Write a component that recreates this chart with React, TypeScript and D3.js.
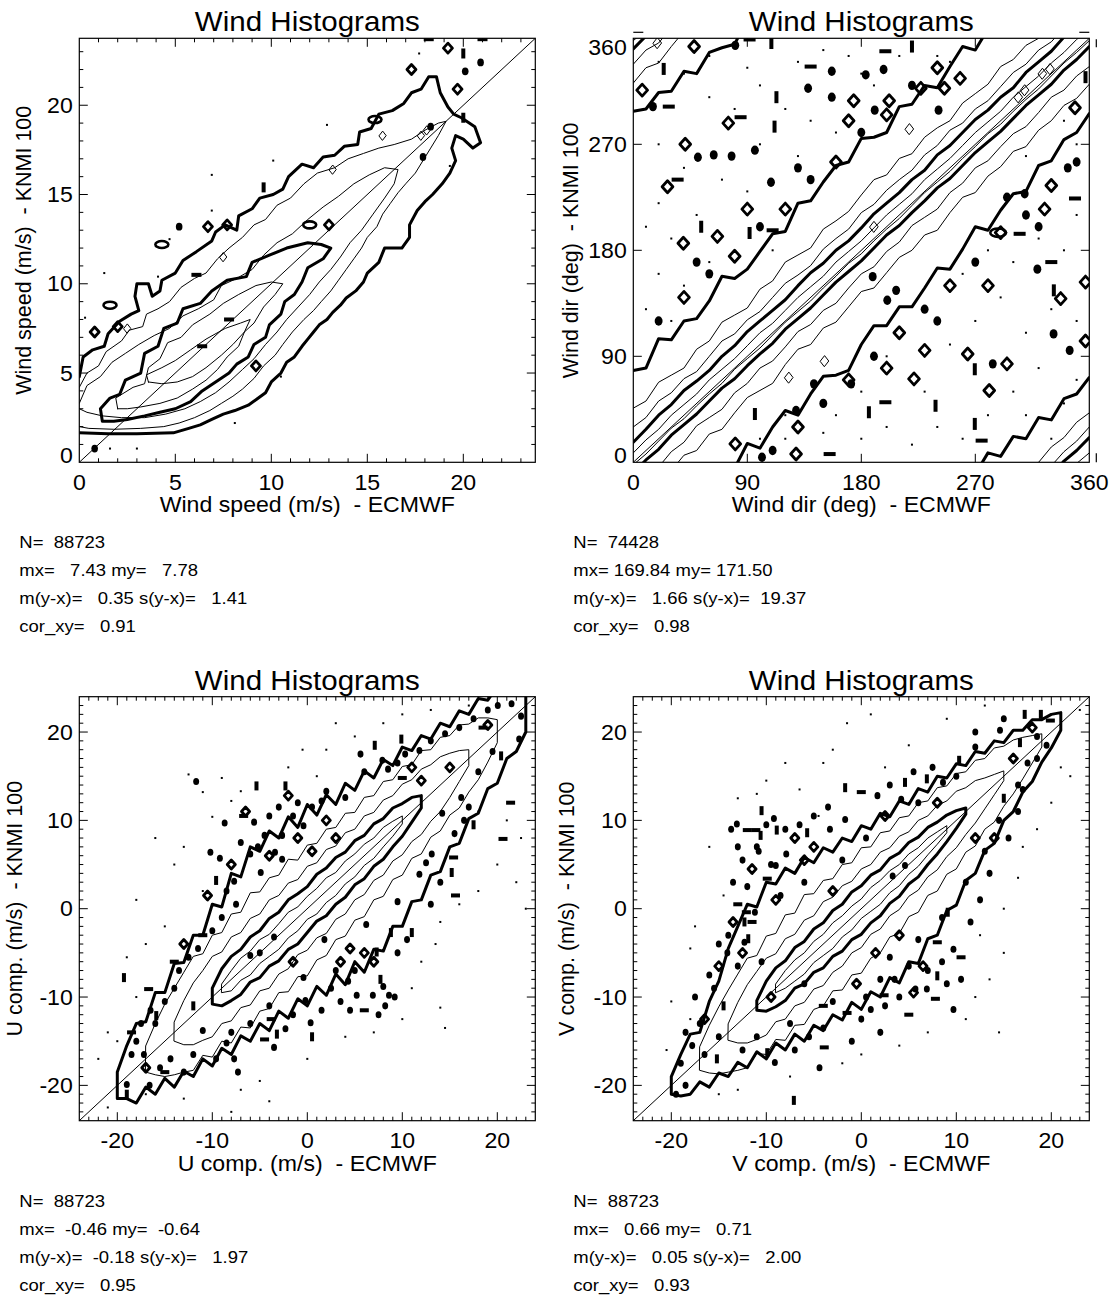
import React from 'react';
import * as d3 from 'd3';

type Pt = [number, number];

const FONT = '"Liberation Sans", Arial, Helvetica, sans-serif';
const STRETCH = 1.075;

// ---------------- Panel 1 : wind speed ----------------
const p1Major = [0, 5, 10, 15, 20];
const p1Minor = [1, 2, 3, 4, 6, 7, 8, 9, 11, 12, 13, 14, 16, 17, 18, 19, 21, 22, 23];
const p1Stats = ['N=  88723', 'mx=   7.43 my=   7.78', 'm(y-x)=   0.35 s(y-x)=   1.41', 'cor_xy=   0.91'];

const p1Outer: Pt[] = [[0,4.8],[0.2,5.9],[0.7,6.3],[1.3,6.5],[1.5,7.2],[2.1,7.9],[2.7,8.3],[3.1,8.5],[2.9,9.3],[3.0,10.0],[3.6,10.0],[3.8,9.3],[4.2,9.6],[4.3,10.2],[5.0,10.6],[5.4,11.3],[6.1,11.8],[6.9,12.4],[7.1,12.9],[7.6,13.3],[8.2,13.0],[8.3,13.8],[9.0,14.2],[9.4,14.8],[10.1,15.0],[10.6,15.3],[10.9,16.0],[11.6,16.7],[12.2,16.5],[12.7,17.1],[13.3,17.2],[13.8,17.7],[14.5,17.8],[14.6,18.5],[15.2,18.7],[15.6,19.5],[16.3,19.7],[16.9,20.1],[17.3,20.7],[17.8,20.9],[18.2,21.6],[18.6,21.6],[18.8,20.7],[19.2,19.9],[19.5,19.5],[19.9,19.3],[20.6,18.8],[20.9,17.9],[20.5,17.6],[20.0,18.1],[19.6,18.3],[19.4,17.6],[19.6,16.9],[19.3,16.2],[18.9,15.6],[18.4,15.0],[18.0,14.6],[17.6,14.1],[17.2,13.3],[17.2,12.6],[16.8,12.0],[15.9,12.0],[15.6,11.2],[15.0,10.6],[14.8,10.1],[14.4,9.6],[13.9,9.2],[13.6,8.8],[13.2,8.4],[12.9,8.0],[12.5,7.7],[12.2,7.3],[11.9,6.9],[11.6,6.5],[11.2,5.9],[10.8,5.6],[10.5,5.0],[10.0,4.5],[9.7,3.9],[9.2,3.5],[8.8,3.2],[8.1,2.9],[7.5,2.7],[6.9,2.4],[6.3,2.1],[5.7,1.9],[4.9,1.65],[3.0,1.6],[1.5,1.6],[0,1.65]];
const p1Level2: Pt[] = [[0,4.2],[0.4,5.0],[1.0,5.4],[1.4,6.2],[2.2,6.8],[2.6,7.4],[3.3,7.6],[3.5,8.3],[4.1,8.6],[4.7,9.0],[5.3,9.8],[6.0,10.3],[6.6,10.6],[7.2,11.4],[7.8,12.0],[8.5,12.6],[9.1,13.3],[9.7,13.6],[10.3,14.4],[11.0,14.8],[11.7,15.6],[12.4,16.2],[13.3,16.5],[14.0,17.0],[14.8,17.3],[15.6,17.6],[16.4,17.8],[17.3,18.1],[18.0,18.6],[18.7,19.0],[19.1,19.1],[18.7,18.3],[18.3,17.6],[17.9,16.9],[17.5,16.2],[17.0,15.6],[16.6,15.1],[16.2,14.5],[15.8,13.9],[15.5,13.2],[15.0,12.6],[14.7,12.0],[14.3,11.4],[13.9,10.8],[13.5,10.2],[13.1,9.6],[12.6,9.0],[12.2,8.5],[11.7,8.0],[11.1,7.3],[10.6,6.6],[10.2,6.0],[9.6,5.4],[9.1,4.7],[8.5,4.1],[8.0,3.7],[7.4,3.3],[6.8,2.9],[6.0,2.5],[5.2,2.2],[4.4,2.0],[3.2,1.9],[1.8,1.85],[0.5,1.9],[0,2.0]];
const p1Level3: Pt[] = [[0,3.3],[0.4,4.3],[1.1,4.8],[1.7,5.6],[2.4,6.1],[3.1,6.6],[3.9,7.1],[4.7,7.5],[5.4,8.2],[6.2,8.6],[7.0,9.1],[7.4,9.9],[8.2,10.3],[9.0,10.8],[9.6,11.6],[10.3,12.3],[11.1,12.8],[11.9,13.6],[12.7,14.3],[13.5,14.9],[14.3,15.6],[15.1,16.1],[15.9,16.5],[16.6,16.4],[16.4,15.6],[15.9,14.8],[15.3,13.9],[14.7,13.0],[14.1,12.3],[13.6,11.5],[13.1,10.8],[12.5,10.1],[12.0,9.4],[11.4,8.7],[10.8,8.0],[10.3,7.3],[9.7,6.6],[9.1,5.8],[8.5,5.2],[7.8,4.5],[7.1,3.9],[6.3,3.4],[5.5,3.0],[4.5,2.7],[3.4,2.5],[2.2,2.5],[1.2,2.6],[0.4,2.8],[0,3.0]];
const p1Inner: Pt[] = [[1.2,2.3],[1.1,3.0],[1.6,3.6],[2.1,3.8],[2.4,4.6],[3.2,5.0],[3.4,6.1],[4.1,6.5],[4.4,7.5],[5.1,7.8],[5.4,8.6],[6.3,8.9],[6.9,9.6],[7.7,10.2],[8.7,10.4],[9.0,11.2],[9.9,11.6],[10.8,12.0],[11.9,12.3],[12.6,12.2],[13.1,12.0],[12.7,11.4],[11.9,10.9],[11.6,10.1],[11.2,9.4],[10.7,9.0],[10.5,8.3],[9.9,7.7],[9.7,7.0],[9.1,6.6],[8.8,5.9],[8.2,5.5],[7.8,5.0],[7.1,4.5],[6.4,4.0],[5.8,3.4],[5.0,3.0],[4.2,2.8],[3.4,2.6],[2.5,2.4],[1.8,2.3],[1.2,2.3]];
const p1Level5: Pt[] = [[2.0,3.0],[1.9,3.6],[2.8,4.2],[3.4,4.4],[3.6,5.3],[4.2,5.8],[4.6,6.7],[5.3,7.0],[5.9,7.7],[6.8,8.3],[7.5,8.9],[8.3,9.4],[9.2,9.9],[10.0,10.1],[10.6,10.0],[10.2,9.4],[9.6,8.7],[9.1,7.8],[8.6,7.3],[8.3,6.5],[7.7,5.9],[7.2,5.2],[6.6,4.6],[5.9,4.1],[5.1,3.6],[4.2,3.3],[3.2,3.1],[2.5,3.0],[2.0,3.0]];
const p1Level6: Pt[] = [[3.6,4.5],[3.5,4.9],[4.3,5.3],[5.0,5.7],[5.8,6.3],[6.6,6.9],[7.6,7.5],[8.4,7.8],[8.9,8.0],[8.6,7.3],[8.0,6.6],[7.4,6.0],[6.6,5.3],[5.9,4.8],[5.1,4.5],[4.3,4.4],[3.6,4.5]];

const p1BlobF: Pt[] = [[0.8,0.77],[5.2,13.2],[18.3,18.8],[17.9,17.1],[20.1,21.9],[20.9,22.4]];
const p1BlobO: Pt[] = [[0.8,7.3],[2.0,7.6],[6.7,13.2],[7.7,13.3],[13.0,13.3],[9.2,5.4],[17.3,22.0],[19.7,20.9],[19.2,23.2]];
const p1BlobE: Pt[] = [[1.6,8.8],[4.3,12.2],[12.0,13.3],[15.4,19.2]];
const p1BlobH: Pt[] = [[6.1,10.5],[7.8,8.0],[6.4,6.5],[18.2,23.7],[21.0,23.7]];
const p1BlobV: Pt[] = [[9.6,15.4],[20.0,19.3],[20.0,22.9]];
const p1BlobT: Pt[] = [[2.5,7.5],[7.5,11.5],[13.2,16.4],[15.8,18.3],[17.8,18.3],[18.1,18.6]];
const p1BlobDot: Pt[] = [[1.6,0.77],[3.0,0.77],[1.3,10.6],[4.1,10.4],[4.7,12.5],[6.9,16.1],[6.9,14.1],[10.1,16.9],[12.9,18.9],[19.3,16.6],[17.7,22.9],[8.1,2.2],[10.5,4.8],[0.3,8.1]];

// ---------------- Panel 2 : wind direction ----------------
const p2Major = [0, 90, 180, 270, 360];
const p2Stats = ['N=  74428', 'mx= 169.84 my= 171.50', 'm(y-x)=   1.66 s(y-x)=  19.37', 'cor_xy=   0.98'];
const p2Along0 = 0;
const p2Step = 10;
// offsets y - x (deg) of each contour, sampled along x = 0..360
const p2OuterUp = [78,70,85,74,80,72,77,88,76,74,79,84,76,90,82,88,92,85,95,86,80,92,84,90,78,86,93,80,88,75,82,70,78,66,74,68,72];
const p2Thin2Up = [46,42,48,44,40,46,43,49,45,41,47,44,50,46,42,48,45,43,47,50,44,48,42,46,44,40,45,43,41,46,42,44,40,43,41,44,42];
const p2Thin3Up = [30,28,32,29,31,27,30,33,29,31,28,30,32,29,27,31,30,28,32,29,31,30,28,31,29,32,28,30,27,29,31,28,30,27,29,28,30];
const p2ThickUp = [17,18,20,19,21,19,18,20,19,21,20,19,18,20,21,19,20,18,19,21,20,19,20,18,21,19,20,21,19,20,18,21,20,19,21,20,21];
const p2RidgeUp = [8,9,8,10,9,8,10,9,8,9,10,8,9,10,9,8,10,9,8,9,10,9,8,10,9,8,9,10,9,8,10,9,8,9,8,9,8];
const p2RidgeLo = [-2,-3,-2,-1,-3,-2,-2,-3,-1,-2,-3,-2,-1,-2,-3,-2,-2,-1,-3,-2,-2,-3,-2,-1,-2,-3,-2,-2,-1,-3,-2,-2,-3,-2,-1,-2,-2];
const p2ThickLo = [-9,-8,-9,-7,-8,-9,-8,-7,-9,-8,-8,-9,-7,-8,-9,-8,-7,-8,-9,-8,-7,-9,-8,-8,-7,-9,-8,-7,-8,-9,-8,-7,-8,-9,-7,-8,-7];
const p2Thin3Lo = [-22,-20,-24,-21,-23,-19,-22,-25,-21,-23,-20,-24,-22,-19,-23,-21,-25,-22,-20,-24,-21,-23,-19,-22,-25,-21,-23,-20,-24,-22,-21,-25,-23,-20,-24,-22,-24];
const p2Thin2Lo = [-38,-35,-41,-37,-34,-40,-36,-42,-38,-35,-39,-43,-37,-34,-40,-36,-41,-38,-35,-42,-39,-36,-40,-37,-43,-38,-35,-41,-37,-39,-36,-42,-38,-40,-37,-41,-39];
const p2OuterLo = [-62,-70,-66,-75,-68,-80,-72,-78,-85,-74,-88,-80,-76,-90,-82,-77,-86,-92,-80,-74,-84,-78,-88,-82,-75,-86,-79,-70,-83,-76,-72,-80,-68,-74,-66,-70,-64];

const p2BlobO: Pt[] = [[48,353],[7,316],[41,270],[75,288],[27,234],[39.5,186],[66.4,191.8],[174,307],[202,307],[227,317.5],[245.6,317.6],[258,326],[348.7,301],[324.7,215],[337.4,139],[357,153],[357,103],[230,95],[221.6,70.8],[264,92],[295,83.6],[128.5,7],[80.5,15.6],[281,61],[40,140],[80,175],[120,215],[160,255],[200,295],[240,335],[90,215],[170,290],[130,30],[170,70],[210,110],[250,150],[290,195],[330,235],[200,80],[280,150]];
const p2BlobF: Pt[] = [[80.5,354],[15.5,302],[51,259],[63.5,261],[77.6,260],[96,265],[108.7,237.8],[156.7,332],[183.5,329],[197.6,333.5],[138,317.6],[156.7,310],[190.6,299],[241,299],[343,250],[309,228],[295,225],[319,164],[331.8,109],[344.5,95],[189,157.6],[207.5,146],[200.5,137.6],[128.5,44],[101.6,4.3],[142.6,66.6],[172,66.6],[283.8,83.6],[20,120],[60,160],[100,200],[140,240],[180,280],[220,320],[50,170],[130,250],[110,10],[150,50],[190,90],[230,130],[270,170],[310,210],[350,255],[240,120],[320,200]];
const p2BlobE: Pt[] = [[288,195]];
const p2BlobH: Pt[] = [[91.8,359],[140,336],[28,302],[84.7,293],[35,240],[110,197],[199,349],[348.7,224],[305,194],[199,51],[275,18.4],[155,7],[330,170]];
const p2BlobV: Pt[] = [[109,356],[24,334],[113,310],[111.5,285],[53.6,200],[91.8,194.7],[220,353],[357,327],[332,146],[238.6,48],[186,42.5],[269.6,32.6],[96,41],[269.6,79]];
const p2BlobT: Pt[] = [[329,334],[323,330],[309,316],[304,310],[218,283],[151,86],[122.8,72],[19,356],[190,200]];
const p2BlobDot: Pt[] = [[20,340],[40,330],[60,345],[90,335],[100,320],[130,340],[150,350],[170,345],[190,320],[60,310],[80,300],[120,300],[140,290],[160,280],[100,270],[130,260],[20,270],[40,250],[70,240],[90,230],[20,220],[50,210],[10,200],[30,190],[60,170],[20,160],[40,150],[10,130],[30,120],[80,170],[110,180],[180,330],[210,345],[240,345],[250,340],[330,20],[310,40],[340,50],[300,60],[320,80],[350,70],[280,40],[260,20],[240,30],[220,15],[200,30],[180,20],[160,40],[150,25],[120,20],[250,100],[270,120],[290,140],[310,110],[330,130],[350,120],[300,170],[320,190],[340,180],[350,210],[330,240],[310,260],[350,270],[340,290],[200,90],[180,60],[230,60],[260,160],[280,180],[120,40],[100,20]];

// ---------------- Panel 3 : U component ----------------
const p3Major = [-20, -10, 0, 10, 20];
const p3Minor = [-24,-23,-22,-21,-19,-18,-17,-16,-15,-14,-13,-12,-11,-9,-8,-7,-6,-5,-4,-3,-2,-1,1,2,3,4,5,6,7,8,9,11,12,13,14,15,16,17,18,19,21,22,23];
const p3Stats = ['N=  88723', 'mx=  -0.46 my=  -0.64', 'm(y-x)=  -0.18 s(y-x)=   1.97', 'cor_xy=   0.95'];
// offsets y - x (m/s) sampled every 1 m/s starting at x0
const p3OuterX0 = -20;
const p3OuterUp = [1.5,3.5,5.0,4.2,6.5,5.5,7.8,6.9,9.0,8.0,10.5,9.2,12.0,10.6,13.0,11.5,12.8,11.0,12.4,10.2,11.8,9.6,10.9,8.8,10.2,8.4,9.6,7.8,8.9,7.2,8.3,6.9,7.6,6.2,7.0,5.6,6.4,5.0,5.8,4.6,5.2,4.0,4.4,3.5];
const p3OuterLo = [-1.5,-2.5,-4.0,-3.2,-5.0,-4.2,-6.2,-5.4,-7.0,-6.0,-7.8,-6.8,-8.5,-7.4,-9.0,-8.0,-9.8,-8.6,-10.4,-9.2,-11.0,-9.8,-11.8,-10.4,-12.6,-11.0,-13.2,-11.6,-12.8,-11.0,-12.0,-10.2,-11.0,-9.2,-9.8,-8.0,-8.6,-6.8,-7.2,-5.4,-5.8,-4.0,-4.2,-3.0];
const p3Lev2X0 = -17;
const p3Lev2Up = [1.5,3.0,4.2,5.0,5.8,6.6,5.9,7.0,6.3,7.4,6.6,7.8,6.9,7.5,6.8,7.6,6.5,7.2,6.4,7.0,6.2,6.8,5.9,6.6,5.8,6.4,5.6,6.1,5.3,5.9,5.0,5.4,4.6,4.8,3.9,3.6,2.6,1.4];
const p3Lev2Lo = [-1.5,-2.8,-4.0,-4.8,-5.5,-6.3,-5.6,-6.8,-6.0,-7.2,-6.4,-7.5,-6.6,-7.3,-6.5,-7.4,-6.7,-7.6,-6.8,-7.3,-6.5,-7.1,-6.3,-6.9,-6.0,-6.6,-5.7,-6.2,-5.3,-5.8,-4.9,-5.2,-4.4,-4.6,-3.8,-3.4,-2.4,-1.2];
const p3Lev3X0 = -14;
const p3Lev3Up = [1.2,2.6,3.6,4.0,4.6,4.1,4.8,4.3,4.9,4.4,5.0,4.5,4.9,4.3,4.8,4.2,4.7,4.1,4.6,4.0,4.5,3.9,4.3,3.8,4.1,3.6,3.8,3.3,3.2,2.6,1.9,1.0];
const p3Lev3Lo = [-1.0,-2.4,-3.4,-3.9,-4.5,-4.0,-4.7,-4.2,-4.9,-4.3,-5.0,-4.4,-4.8,-4.2,-4.7,-4.3,-4.8,-4.2,-4.6,-4.0,-4.4,-3.8,-4.2,-3.6,-3.9,-3.4,-3.6,-3.1,-3.0,-2.4,-1.6,-0.8];
const p3InnerX0 = -10;
const p3InnerUp = [1.0,2.2,2.6,2.4,2.8,2.5,2.9,2.6,3.0,2.7,2.5,2.9,2.6,2.8,2.4,2.7,2.3,2.6,2.2,2.4,1.9,1.6,0.8];
const p3InnerLo = [-0.8,-2.0,-2.4,-2.7,-2.3,-2.8,-2.5,-2.9,-2.6,-3.0,-2.7,-2.4,-2.8,-2.5,-2.7,-2.3,-2.6,-2.2,-2.4,-2.0,-1.8,-1.2,-0.6];
const p3TopX0 = -9;
const p3TopUp = [0.5,1.0,1.4,1.2,1.5,1.1,1.3,1.6,1.2,1.4,1.3,1.5,1.1,1.4,1.2,1.3,1.0,1.2,0.9,0.5];
const p3TopLo = [-0.5,-1.3,-1.1,-1.5,-1.2,-1.4,-1.6,-1.3,-1.5,-1.2,-1.6,-1.3,-1.5,-1.2,-1.4,-1.1,-1.3,-1.0,-0.8,-0.4];

const p3BlobF: Pt[] = [[-11.7,14.4],[-8.7,9.7],[-10.2,6.4],[-9.2,5.7],[-7.7,3.1],[5.6,17.5],[10.3,17.5],[11.8,17.9],[7.9,16.8],[22.3,19.2],[22.5,21.8],[20.05,23],[13.1,6.2],[11.8,3.9],[-0.4,-7.8],[-0.2,-10.4],[0.35,-12.9],[-2.3,-13.6],[-3.5,-15.7],[-7.7,-17.0],[-7.3,-18.5],[-9.6,-17.0],[-13.0,-18.5],[-16.6,-20.0],[-19.0,-19.9],[-14.4,-17.0],[5.2,-9.8],[6.9,-9.8],[8.2,-11.0],[8.6,-9.8],[9.2,-10.0],[3.0,-7.0],[4.3,-8.2],[-5.6,9.8],[-4.5,8.3],[-2.65,8.3],[-3.4,6.4],[-1.5,10.5],[-0.4,9.4],[-4.9,4.1],[-2.65,5.6],[-6.0,-5.3],[-5.0,-5.0],[-3.5,-3.2],[2.0,13.3],[4.0,12.6],[-9.0,-1.0],[-12.5,-5.5],[-14.0,-9.0],[-16.0,-13.0],[-18.0,-15.0],[-17.2,-16.5],[1.8,-3.5],[6.2,-1.8],[9.5,0.8],[12.5,5.2],[14.2,10.8],[16.2,12.6],[18.0,15.5],[19.5,17.8],[-11.0,-13.8],[-8.5,-15.2],[-4.0,-11.0],[2.5,-9.0],[-7.0,7.5],[-6.0,6.2],[-5.2,7.0],[-4.0,10.5],[-3.0,11.5],[-1.0,12.0],[0.5,11.5],[1.5,12.2],[-8.5,2.0],[-7.5,0.5],[-10.0,-2.5],[-11.5,-4.5],[-13.5,-7.0],[-15.0,-10.5],[-16.5,-11.5],[-17.5,-13.0],[-18.5,-16.5],[6.0,15.5],[8.5,15.8],[9.5,16.5],[13.0,19.0],[14.5,19.8],[16.0,20.5],[17.5,21.5],[19.0,22.5],[21.5,23.2],[15.5,8.5],[16.5,10.0],[17.0,11.5],[14.0,3.0],[13.0,0.5],[10.5,-3.5],[9.5,-5.0],[5.0,-7.0],[3.5,-10.5],[1.5,-11.5],[-1.5,-12.0],[-6.0,-13.0],[-8.0,-14.0],[-12.0,-16.5],[-15.5,-18.0],[4.5,-11.5],[7.5,-12.0],[8.0,-8.8]];
const p3BlobO: Pt[] = [[-6.5,11.0],[-2.0,12.8],[3.0,8.0],[-8.0,5.0],[0.5,6.5],[7.0,-6.0],[-1.5,-6.0],[12.0,14.5],[15.0,16.0],[-10.5,1.5],[-13.0,-4.0],[4.5,-4.5],[-4.0,6.0],[-1.0,8.0],[2.0,10.0],[6.0,-5.0],[3.5,-6.0],[-17.0,-18.0],[19.0,20.8],[11.0,16.0]];
const p3BlobH: Pt[] = [[-6.7,10.5],[-16.7,-9.1],[20.6,7.9],[21.4,12.0],[15.4,5.8],[15.6,1.5],[-3.8,-12.5],[-4.5,-14.8],[-18.5,-14.0],[-14.0,-6.0],[-11.0,-3.0],[6.0,-11.5],[10.0,14.8],[18.5,20.5],[-15.0,-18.5]];
const p3BlobV: Pt[] = [[-5.35,13.9],[-2.3,13.9],[7.1,18.5],[9.9,19.2],[20.4,17.3],[15.2,4.1],[-3.2,-14.2],[-19.0,-21.0],[-19.3,-7.8],[-9.6,3.2],[7.7,-8.0],[7.3,-4.9],[11.0,-2.7],[8.8,-2.7],[-15.9,-12.1],[-12.0,-11.0],[17.5,9.5],[0.5,-14.5]];
const p3BlobDot: Pt[] = [[-12.5,15.2],[-11.0,13.2],[-10.0,10.4],[-8.0,12.2],[-7.0,13.3],[-13.0,7.0],[-14.0,5.0],[-11.0,2.0],[-15.0,-2.0],[-17.0,-4.0],[-19.0,-5.5],[-18.0,-10.0],[-21.0,-14.0],[-20.0,-15.0],[-22.0,-17.0],[-21.0,-22.5],[-17.0,-21.0],[-13.0,-21.5],[-8.0,-23.0],[-4.0,-21.8],[-7.0,-20.5],[-5.0,-19.5],[0.0,-17.0],[4.0,-14.5],[7.0,-14.0],[10.0,-12.5],[11.0,-9.0],[14.0,-11.2],[14.5,-13.5],[12.0,-6.0],[13.5,-4.0],[14.0,-1.5],[16.0,0.5],[18.0,2.0],[20.0,5.0],[22.0,3.0],[22.5,8.0],[21.0,10.0],[18.0,11.0],[23.0,0.0],[2.0,18.0],[1.0,15.0],[-2.0,16.0],[-0.5,18.0],[3.0,21.0],[5.0,19.5],[8.0,21.0],[10.0,22.0],[13.0,22.5],[17.0,23.0],[-9.0,14.8],[-16.0,8.0],[-18.0,1.0]];

// ---------------- Panel 4 : V component ----------------
const p4Stats = ['N=  88723', 'mx=   0.66 my=   0.71', 'm(y-x)=   0.05 s(y-x)=   2.00', 'cor_xy=   0.93'];
const p4OuterX0 = -20;
const p4OuterUp = [1.0,2.5,3.8,3.0,5.5,6.8,9.5,11.0,12.5,11.2,13.0,11.8,12.6,11.0,11.8,10.2,10.9,9.4,10.0,8.6,9.4,8.0,8.8,7.4,8.2,6.8,7.6,6.2,7.0,5.8,6.4,5.2,5.8,4.6,5.0,3.8,4.2,3.2,3.4,2.4,2.0,1.2];
const p4OuterLo = [-1.0,-2.2,-3.0,-2.6,-4.2,-3.6,-5.0,-4.4,-6.0,-5.2,-7.0,-6.2,-8.0,-7.2,-9.0,-8.2,-9.8,-9.0,-10.6,-9.6,-11.4,-10.4,-12.0,-10.8,-12.4,-11.0,-12.2,-10.4,-11.0,-9.2,-9.6,-7.8,-8.0,-6.4,-6.6,-5.0,-5.0,-3.8,-3.6,-2.4,-1.8,-0.8];
const p4Lev2X0 = -17;
const p4Lev2Up = [1.4,2.8,3.9,4.8,5.6,6.4,5.7,6.9,6.2,7.3,6.5,7.6,6.7,7.2,6.4,7.0,6.2,6.9,6.0,6.6,5.8,6.3,5.5,6.0,5.2,5.7,4.9,5.3,4.5,4.8,4.0,4.2,3.4,3.1,2.4,1.6,0.8];
const p4Lev2Lo = [-1.3,-2.6,-3.7,-4.5,-5.3,-6.0,-5.4,-6.5,-5.8,-6.9,-6.2,-7.1,-6.4,-7.0,-6.3,-7.2,-6.5,-7.3,-6.6,-7.0,-6.2,-6.8,-5.9,-6.4,-5.5,-6.0,-5.1,-5.5,-4.6,-4.9,-4.0,-4.2,-3.4,-3.0,-2.3,-1.5,-0.7];
const p4Lev3X0 = -14;
const p4Lev3Up = [1.0,2.4,3.4,3.9,4.4,3.9,4.6,4.1,4.7,4.2,4.8,4.3,4.6,4.1,4.5,4.0,4.4,3.9,4.2,3.7,4.0,3.5,3.7,3.2,3.3,2.7,2.5,1.8,1.2,0.6];
const p4Lev3Lo = [-0.9,-2.2,-3.2,-3.8,-4.3,-3.8,-4.5,-4.0,-4.6,-4.1,-4.7,-4.2,-4.5,-4.0,-4.4,-3.9,-4.3,-3.8,-4.1,-3.6,-3.9,-3.4,-3.6,-3.1,-3.1,-2.6,-2.3,-1.7,-1.1,-0.5];
const p4InnerX0 = -11;
const p4InnerUp = [0.6,1.8,2.3,2.1,2.6,2.3,2.7,2.4,2.8,2.5,2.9,2.6,2.8,2.4,2.7,2.3,2.5,2.1,2.2,1.8,1.6,1.1,0.4];
const p4InnerLo = [-0.5,-1.6,-2.1,-2.4,-2.0,-2.5,-2.2,-2.7,-2.4,-2.8,-2.5,-2.9,-2.6,-2.8,-2.4,-2.6,-2.2,-2.4,-2.0,-1.8,-1.4,-0.9,-0.3];
const p4TopX0 = -9;
const p4TopUp = [0.5,1.0,1.2,1.0,1.3,1.1,1.4,1.2,1.3,1.1,1.4,1.2,1.3,1.0,1.2,0.9,1.0,0.7,0.4];
const p4TopLo = [-0.5,-1.0,-1.2,-1.4,-1.1,-1.3,-1.5,-1.2,-1.4,-1.1,-1.3,-1.5,-1.2,-1.4,-1.1,-1.2,-0.9,-0.7,-0.4];

const p4BlobF: Pt[] = [[-13.7,9.0],[-13.1,9.6],[-9.2,10.2],[-10.8,6.5],[-9.0,4.9],[-7.9,6.2],[-3.3,9.0],[-1.7,10.1],[1.7,12.8],[4.2,12.4],[8.6,14.3],[12.0,18.3],[14.6,20.2],[-11.2,-0.4],[-12.3,-3.8],[-14.1,-5.0],[9.7,-4.6],[5.7,-9.1],[6.9,-9.1],[3.5,-8.0],[2.5,-11.0],[1.0,-11.4],[9.7,-11.4],[-9.1,-17.4],[-4.4,-18.0],[-17.8,-15.5],[3.3,3.7],[4.6,4.9],[-8.5,1.5],[-6.0,3.0],[-12.0,2.5],[-10.5,-6.0],[-15.5,-9.0],[-17.0,-13.0],[-19.0,-17.5],[-19.5,-21.0],[-18.5,-20.0],[-6.0,-8.5],[-3.0,-10.5],[0.0,-12.5],[-7.5,-13.0],[-4.0,-13.5],[3.0,-5.5],[6.0,-3.5],[8.5,-1.0],[11.0,3.0],[13.0,6.5],[14.5,10.0],[16.5,14.0],[17.5,16.5],[18.5,19.5],[-2.0,5.5],[0.5,8.0],[6.0,12.0],[10.0,15.0],[2.0,-14.0],[-1.0,-15.0],[-13.0,7.0],[-12.5,5.5],[-11.0,7.0],[-10.0,9.5],[-8.0,9.0],[-6.5,9.5],[-5.0,10.5],[-3.5,11.5],[-13.5,3.0],[-14.0,-3.0],[-15.0,-4.0],[-13.0,-6.5],[-16.0,-7.5],[-17.5,-10.0],[-18.5,-14.0],[-16.5,-16.5],[-15.0,-14.5],[-12.5,-16.0],[-11.0,-14.5],[-7.0,-16.0],[-5.5,-14.5],[0.5,-10.0],[2.0,-8.0],[4.0,-10.0],[5.0,-6.5],[7.0,-7.0],[8.5,-6.0],[9.0,-8.5],[10.5,-8.0],[11.5,-1.5],[12.5,1.0],[13.5,4.0],[15.5,8.0],[16.5,11.0],[17.0,13.5],[18.5,17.0],[19.5,18.5],[3.0,14.0],[5.5,15.5],[7.5,16.0],[12.0,20.0],[15.0,21.5],[-9.5,5.0]];
const p4BlobO: Pt[] = [[-11.5,4.5],[-7.0,8.0],[-5.0,7.0],[-3.0,2.0],[2.5,10.5],[6.5,-6.5],[4.0,-3.0],[-0.5,-8.5],[-13.5,-1.5],[-15.0,-6.5],[12.0,8.0],[-9.5,-10.0],[8.0,12.0],[16.0,17.0],[-12.5,-5.0],[-9.0,1.0],[-6.0,5.5],[1.5,-5.0],[5.5,-9.5],[14.0,8.0],[-16.5,-12.5],[18.0,20.5]];
const p4BlobH: Pt[] = [[-12.0,8.9],[-11.1,8.9],[-9.9,3.4],[-12.1,-0.4],[8.0,-3.8],[7.8,-10.2],[2.4,-9.8],[-3.9,-15.7],[0.0,13.2],[19.9,21.3],[-13.0,0.5],[-11.5,-1.5],[5.0,-12.0],[10.5,-5.5],[-4.0,-11.0],[-1.5,-11.8]];
const p4BlobV: Pt[] = [[-10.5,11.1],[-8.9,8.9],[-10.6,8.3],[-5.7,8.6],[-1.7,13.7],[4.6,14.3],[6.9,14.7],[10.3,16.8],[16.7,18.8],[17.2,22.0],[18.9,22.0],[-12.3,-1.5],[-11.9,-3.4],[9.1,-0.4],[8.0,-7.6],[-7.1,-21.7],[-9.9,-16.3],[-15.2,-17.0],[15.0,12.5],[-14.5,-11.0]];
const p4BlobDot: Pt[] = [[-14.5,1.5],[-16.0,7.0],[-13.0,12.5],[-11.0,13.0],[-10.0,14.5],[-6.5,13.5],[-4.0,16.5],[-3.0,18.0],[-1.5,21.0],[1.0,22.0],[-4.5,10.5],[-17.5,-2.0],[-18.0,-4.5],[-20.0,-10.5],[-18.0,-12.5],[-20.5,-16.0],[-15.0,-21.0],[-13.0,-20.5],[-7.5,-19.0],[-2.0,-17.5],[0.0,-16.5],[4.0,-15.5],[7.0,-14.0],[11.0,-12.5],[12.0,-10.0],[13.5,-8.0],[15.0,-5.0],[12.5,-3.0],[15.0,0.0],[16.5,3.5],[17.0,7.0],[18.5,9.0],[20.0,12.0],[21.0,16.0],[22.0,15.0],[23.0,22.5],[13.0,23.0],[9.0,21.5],[5.0,18.5],[2.5,16.0],[-8.0,16.5],[14.5,-14.0]];

// ---------------- helpers ----------------
interface Shape { pts: Pt[]; closed: boolean; w: number; }

function along(x0: number, step: number, offs: number[]): Pt[] {
  return offs.map((d, i) => {
    const xv = x0 + i * step;
    return [xv, xv + d] as Pt;
  });
}
function band(x0: number, up: number[], lo: number[], w: number): Shape {
  return { pts: [...along(x0, 1, up), ...along(x0, 1, lo).reverse()], closed: true, w };
}
function wrapped(offs: number[], w: number): Shape[] {
  const base = along(p2Along0, p2Step, offs);
  return [0, 360, -360].map(s => ({ pts: base.map(p => [p[0], p[1] + s] as Pt), closed: false, w }));
}

const THICK = 3;
const THIN = 1;

interface Blobs { f: Pt[]; o: Pt[]; e: Pt[]; h: Pt[]; v: Pt[]; t: Pt[]; dot: Pt[]; }

interface PanelCfg {
  left: number; top: number; domain: [number, number];
  majors: number[]; minors: number[];
  xTitle: string; yTitle: string; yTitleX: number;
  stats: string[]; shapes: Shape[]; blobs: Blobs; blobScale: number; extras: boolean;
}

const W = 456;
const H = 424;

const panels: PanelCfg[] = [
  {
    left: 79.3, top: 38.3, domain: [0, 23.75], majors: p1Major, minors: p1Minor,
    xTitle: 'Wind speed (m/s)  - ECMWF', yTitle: 'Wind speed (m/s)  - KNMI 100', yTitleX: 31,
    stats: p1Stats,
    shapes: [
      { pts: p1Outer, closed: false, w: THICK },
      { pts: p1Level2, closed: false, w: THIN },
      { pts: p1Level3, closed: false, w: THIN },
      { pts: p1Inner, closed: true, w: THICK },
      { pts: p1Level5, closed: true, w: THIN },
      { pts: p1Level6, closed: true, w: THIN },
    ],
    blobs: { f: p1BlobF, o: p1BlobO, e: p1BlobE, h: p1BlobH, v: p1BlobV, t: p1BlobT, dot: p1BlobDot },
    blobScale: 1, extras: false,
  },
  {
    left: 633.3, top: 38.3, domain: [0, 360], majors: p2Major, minors: [],
    xTitle: 'Wind dir (deg)  - ECMWF', yTitle: 'Wind dir (deg)  - KNMI 100', yTitleX: 578,
    stats: p2Stats,
    shapes: [
      ...wrapped(p2OuterUp, THICK), ...wrapped(p2Thin2Up, THIN), ...wrapped(p2Thin3Up, THIN),
      ...wrapped(p2ThickUp, THICK), ...wrapped(p2RidgeUp, THIN), ...wrapped(p2RidgeLo, THIN),
      ...wrapped(p2ThickLo, THICK), ...wrapped(p2Thin3Lo, THIN), ...wrapped(p2Thin2Lo, THIN),
      ...wrapped(p2OuterLo, THICK),
    ],
    blobs: { f: p2BlobF, o: p2BlobO, e: p2BlobE, h: p2BlobH, v: p2BlobV, t: p2BlobT, dot: p2BlobDot },
    blobScale: 1.2, extras: true,
  },
  {
    left: 79.3, top: 696.7, domain: [-24, 24], majors: p3Major, minors: p3Minor,
    xTitle: 'U comp. (m/s)  - ECMWF', yTitle: 'U comp. (m/s)  - KNMI 100', yTitleX: 22,
    stats: p3Stats,
    shapes: [
      band(p3OuterX0, p3OuterUp, p3OuterLo, THICK),
      band(p3Lev2X0, p3Lev2Up, p3Lev2Lo, THIN),
      band(p3Lev3X0, p3Lev3Up, p3Lev3Lo, THIN),
      band(p3InnerX0, p3InnerUp, p3InnerLo, THICK),
      band(p3TopX0, p3TopUp, p3TopLo, THIN),
    ],
    blobs: { f: p3BlobF, o: p3BlobO, e: [], h: p3BlobH, v: p3BlobV, t: [], dot: p3BlobDot },
    blobScale: 0.9, extras: false,
  },
  {
    left: 633.3, top: 696.7, domain: [-24, 24], majors: p3Major, minors: p3Minor,
    xTitle: 'V comp. (m/s)  - ECMWF', yTitle: 'V comp. (m/s)  - KNMI 100', yTitleX: 574,
    stats: p4Stats,
    shapes: [
      band(p4OuterX0, p4OuterUp, p4OuterLo, THICK),
      band(p4Lev2X0, p4Lev2Up, p4Lev2Lo, THIN),
      band(p4Lev3X0, p4Lev3Up, p4Lev3Lo, THIN),
      band(p4InnerX0, p4InnerUp, p4InnerLo, THICK),
      band(p4TopX0, p4TopUp, p4TopLo, THIN),
    ],
    blobs: { f: p4BlobF, o: p4BlobO, e: [], h: p4BlobH, v: p4BlobV, t: [], dot: p4BlobDot },
    blobScale: 0.9, extras: false,
  },
];

function STxt(props: { x: number; y: number; size: number; anchor?: string; children: string }) {
  return (
    <text
      transform={`translate(${props.x},${props.y}) scale(${STRETCH},1)`}
      fontSize={props.size}
      textAnchor={props.anchor || 'start'}
      fill="#000"
      style={{ whiteSpace: 'pre' }}
    >
      {props.children}
    </text>
  );
}

function Panel({ cfg, idx }: { cfg: PanelCfg; idx: number }) {
  const x = d3.scaleLinear().domain(cfg.domain).range([cfg.left, cfg.left + W]);
  const y = d3.scaleLinear().domain(cfg.domain).range([cfg.top + H, cfg.top]);
  const line = d3.line<Pt>().x(d => x(d[0])).y(d => y(d[1]));
  const [d0, d1] = cfg.domain;
  const right = cfg.left + W;
  const bottom = cfg.top + H;
  const clipId = `clip-panel-${idx}`;
  const s = cfg.blobScale;
  const inner = (v: number) => v > d0 && v < d1;

  const ticks: JSX.Element[] = [];
  const addTicks = (vals: number[], len: number, key: string) => {
    vals.filter(inner).forEach((v, i) => {
      const xv = x(v), yv = y(v);
      ticks.push(<line key={`${key}b${i}`} x1={xv} x2={xv} y1={bottom} y2={bottom - len} />);
      ticks.push(<line key={`${key}t${i}`} x1={xv} x2={xv} y1={cfg.top} y2={cfg.top + len} />);
      ticks.push(<line key={`${key}l${i}`} x1={cfg.left} x2={cfg.left + len} y1={yv} y2={yv} />);
      ticks.push(<line key={`${key}r${i}`} x1={right} x2={right - len} y1={yv} y2={yv} />);
    });
  };
  addTicks(cfg.majors, 8.5, 'M');
  addTicks(cfg.minors, 4, 'm');

  const b = cfg.blobs;
  const blobEls: JSX.Element[] = [];
  b.f.forEach((p, i) => blobEls.push(<ellipse key={`f${i}`} cx={x(p[0])} cy={y(p[1])} rx={3.3 * s} ry={3.9 * s} fill="#000" stroke="none" />));
  b.o.forEach((p, i) => {
    const cx = x(p[0]), cy = y(p[1]);
    blobEls.push(<path key={`o${i}`} d={`M${cx - 4.5 * s},${cy}L${cx},${cy - 5 * s}L${cx + 4.5 * s},${cy}L${cx},${cy + 5 * s}Z`} strokeWidth={2.8} fill="none" />);
  });
  b.e.forEach((p, i) => blobEls.push(<ellipse key={`e${i}`} cx={x(p[0])} cy={y(p[1])} rx={6.5 * s} ry={3.5 * s} strokeWidth={2.6} fill="none" />));
  b.h.forEach((p, i) => blobEls.push(<rect key={`h${i}`} x={x(p[0]) - 5 * s} y={y(p[1]) - 2} width={10 * s} height={4} fill="#000" stroke="none" />));
  b.v.forEach((p, i) => blobEls.push(<rect key={`v${i}`} x={x(p[0]) - 2} y={y(p[1]) - 5 * s} width={4} height={10 * s} fill="#000" stroke="none" />));
  b.t.forEach((p, i) => {
    const cx = x(p[0]), cy = y(p[1]);
    blobEls.push(<path key={`t${i}`} d={`M${cx - 3.5 * s},${cy}L${cx},${cy - 4.5 * s}L${cx + 3.5 * s},${cy}L${cx},${cy + 4.5 * s}Z`} strokeWidth={1} fill="none" />);
  });
  b.dot.forEach((p, i) => blobEls.push(<rect key={`d${i}`} x={x(p[0]) - 1} y={y(p[1]) - 1} width={2} height={2} fill="#000" stroke="none" />));

  const yLabelCenter = (v: number) => Math.min(Math.max(y(v), cfg.top + 8.5), bottom - 7);

  return (
    <g>
      <defs>
        <clipPath id={clipId}>
          <rect x={cfg.left} y={cfg.top} width={W} height={H} />
        </clipPath>
      </defs>
      <g clipPath={`url(#${clipId})`} fill="none" stroke="#000" strokeLinejoin="round" strokeLinecap="round">
        {cfg.shapes.map((sh, i) => (
          <path key={`s${i}`} d={(line(sh.pts) || '') + (sh.closed ? 'Z' : '')} strokeWidth={sh.w} />
        ))}
        <path d={line([[d0, d0], [d1, d1]]) || ''} strokeWidth={1} />
        {blobEls}
      </g>
      <rect x={cfg.left} y={cfg.top} width={W} height={H} fill="none" stroke="#000" strokeWidth={1.2} />
      <g stroke="#000" strokeWidth={1}>{ticks}</g>
      {cfg.extras && (
        <g stroke="#000" strokeWidth={1.2}>
          <line x1={cfg.left} x2={cfg.left + 10} y1={cfg.top - 6} y2={cfg.top - 6} />
          <line x1={right - 10} x2={right} y1={cfg.top - 6} y2={cfg.top - 6} />
          <line x1={right + 7} x2={right + 7} y1={cfg.top + 1} y2={cfg.top + 9} />
          <line x1={right + 7} x2={right + 7} y1={bottom - 9} y2={bottom} />
        </g>
      )}
      <STxt x={cfg.left + W / 2} y={cfg.top - 7} size={27.5} anchor="middle">Wind Histograms</STxt>
      {cfg.majors.map((v, i) => (
        <STxt key={`xl${i}`} x={x(v)} y={bottom + 27.5} size={21.5} anchor="middle">{String(v)}</STxt>
      ))}
      {cfg.majors.map((v, i) => (
        <STxt key={`yl${i}`} x={cfg.left - 6.5} y={yLabelCenter(v) + 7.7} size={21.5} anchor="end">{String(v)}</STxt>
      ))}
      <STxt x={cfg.left + W / 2} y={bottom + 50} size={21.5} anchor="middle">{cfg.xTitle}</STxt>
      <text
        transform={`translate(${cfg.yTitleX},${cfg.top + H / 2}) rotate(-90)`}
        fontSize={21.5}
        textAnchor="middle"
        style={{ whiteSpace: 'pre' }}
      >
        {cfg.yTitle}
      </text>
      {cfg.stats.map((t, i) => (
        <STxt key={`st${i}`} x={cfg.left - 60} y={bottom + 86 + 28 * i} size={17.2}>{t}</STxt>
      ))}
    </g>
  );
}

export default function App() {
  return (
    <svg
      width={1120}
      height={1297}
      viewBox="0 0 1120 1297"
      style={{ position: 'absolute', left: 0, top: 0, display: 'block' }}
      fontFamily={FONT}
    >
      <rect x={0} y={0} width={1120} height={1297} fill="#fff" />
      {panels.map((p, i) => (
        <Panel key={i} cfg={p} idx={i} />
      ))}
    </svg>
  );
}
